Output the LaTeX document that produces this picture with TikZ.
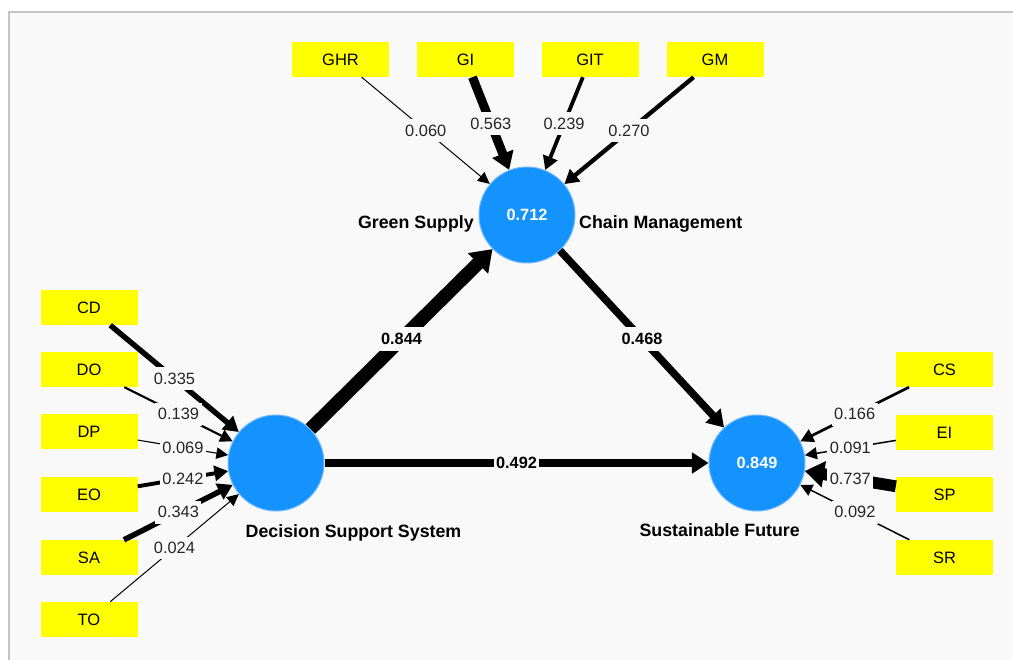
\documentclass[tikz,border=0pt]{standalone}
\usepackage{fontspec}
\setmainfont{Liberation Sans}
\usetikzlibrary{arrows.meta}
\definecolor{canvas}{HTML}{F9F9F9}
\definecolor{framegray}{HTML}{C4C4C4}
\definecolor{lvblue}{HTML}{1493FF}
\definecolor{lvedge}{HTML}{70B8FF}
\definecolor{mvyellow}{HTML}{FFFF00}
\begin{document}
\begin{tikzpicture}[x=1pt,y=-1pt,
 mv/.style={fill=mvyellow, minimum width=97pt, minimum height=35pt, inner sep=0pt, font=\fontsize{16.5}{18}\selectfont},
 lv/.style={circle, fill=lvblue, draw=lvedge, line width=1pt, minimum size=96pt, inner sep=0pt, text=white, font=\bfseries\fontsize{16.3}{18}\selectfont},
 coef/.style={fill=canvas, inner xsep=2.5pt, inner ysep=5.5pt, font=\fontsize{16.4}{18}\selectfont, text=black!85},
 pcoef/.style={fill=canvas, inner xsep=2pt, inner ysep=6pt, font=\bfseries\fontsize{16.3}{18}\selectfont, text=black},
 lvlabel/.style={inner sep=0pt, font=\bfseries\fontsize{17.8}{20}\selectfont},
 arr/.style={-{Triangle[length=11pt 0.7, width=10pt 1.3]}}
]
\useasboundingbox (0,0) rectangle (1013,660);
\fill[white] (0,0) rectangle (1013,660);
\fill[canvas] (9,12) rectangle (1013,660);
\draw[framegray, line width=1.5pt] (9,660) -- (9,12) -- (1013,12);

% latent variables
\node[lv] (GSCM) at (527,215) {0.712};
\node[lv] (DSS) at (276,463) {};
\node[lv] (SF) at (757,463) {0.849};

\node[lvlabel, anchor=base east] (gscmL) at (474,229) {Green Supply};
\node[lvlabel, anchor=base west] (gscmR) at (579,229) {Chain Management};
\node[lvlabel, anchor=base west] (dssL) at (245.5,537) {Decision Support System};
\node[lvlabel, anchor=base east] (sfL) at (800,536) {Sustainable Future};

% indicators
\node[mv] (GHR) at (340.5,59.5) {GHR};
\node[mv] (GI) at (465.5,59.5) {GI};
\node[mv] (GIT) at (590,59.5) {GIT};
\node[mv] (GM) at (715,59.5) {GM};

\node[mv] (CD) at (89,307.5) {CD};
\node[mv] (DO) at (89,369.5) {DO};
\node[mv] (DP) at (89,432) {DP};
\node[mv] (EO) at (89,494.5) {EO};
\node[mv] (SA) at (89,557.5) {SA};
\node[mv] (TO) at (89,619.5) {TO};

\node[mv] (CS) at (944.5,369.5) {CS};
\node[mv] (EI) at (944.5,432.5) {EI};
\node[mv] (SP) at (944.5,494.5) {SP};
\node[mv] (SR) at (944.5,557.5) {SR};

% indicator edges
\draw[arr, line width=1pt] (GHR) -- node[coef]{0.060} (GSCM);
\draw[arr, line width=9pt] (GI) -- node[coef]{0.563} (GSCM);
\draw[arr, line width=3.8pt] (GIT) -- node[coef]{0.239} (GSCM);
\draw[arr, line width=4.3pt] (GM) -- node[coef]{0.270} (GSCM);

\draw[arr, line width=5.4pt] (CD) -- node[coef]{0.335} (DSS);
\draw[arr, line width=2.2pt] (DO) -- node[coef]{0.139} (DSS);
\draw[arr, line width=1.1pt] (DP) -- node[coef]{0.069} (DSS);
\draw[arr, line width=3.9pt] (EO) -- node[coef]{0.242} (DSS);
\draw[arr, line width=5.5pt] (SA) -- node[coef]{0.343} (DSS);
\draw[arr, line width=1pt] (TO) -- node[coef]{0.024} (DSS);

\draw[arr, line width=2.7pt] (CS) -- node[coef]{0.166} (SF);
\draw[arr, line width=1.5pt] (EI) -- node[coef]{0.091} (SF);
\draw[arr, line width=11.8pt] (SP) -- node[coef]{0.737} (SF);
\draw[arr, line width=1.5pt] (SR) -- node[coef]{0.092} (SF);

% structural paths
\draw[arr, line width=13.5pt] (DSS) -- node[pcoef]{0.844} (GSCM);
\draw[arr, line width=7.5pt] (GSCM) -- node[pcoef]{0.468} (SF);
\draw[arr, line width=7.9pt] (DSS) -- node[pcoef]{0.492} (SF);
\end{tikzpicture}
\end{document}
